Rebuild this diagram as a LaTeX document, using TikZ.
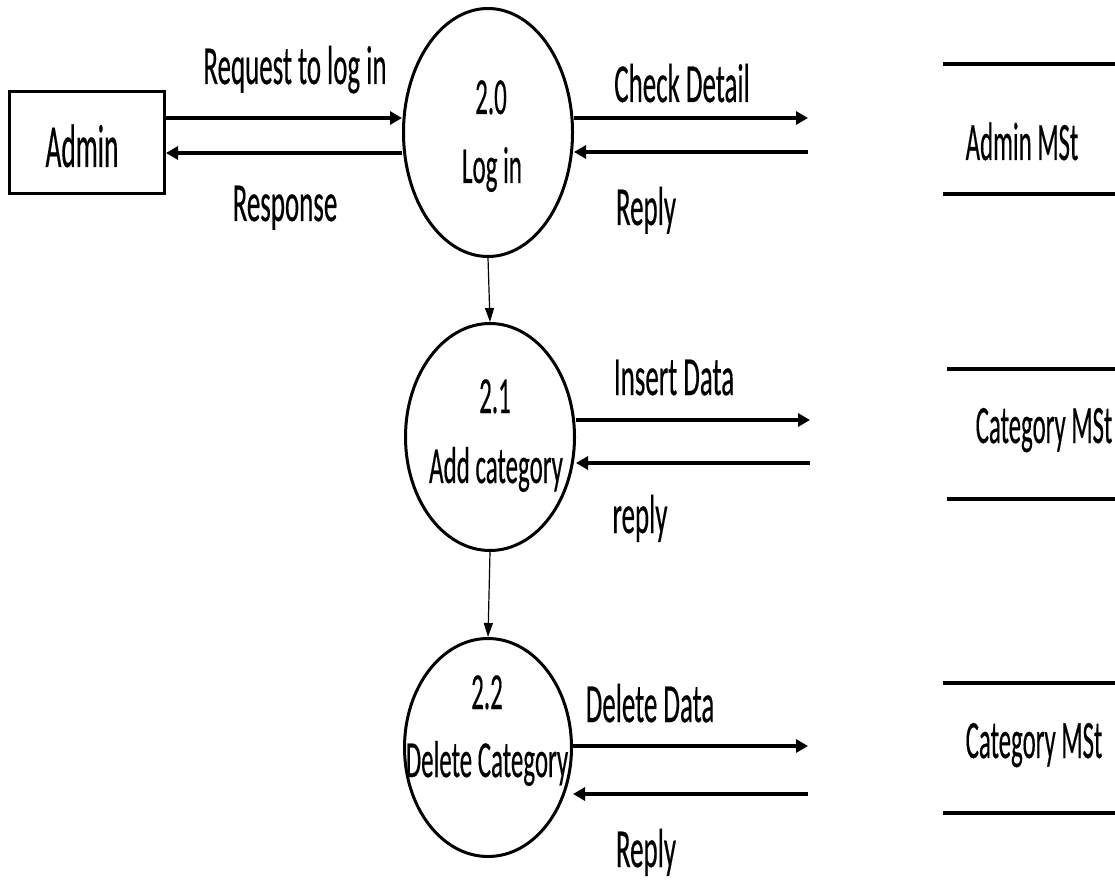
\documentclass[tikz,border=0pt]{standalone}
\usepackage{fontspec}
\setmainfont{Carlito}
\newfontfamily\lblfont{Carlito}[FakeBold=0.5]
\usepackage{graphicx}
\usetikzlibrary{arrows.meta,shapes.geometric}
% horizontally condensed text
\newcommand{\sx}[2]{\scalebox{#1}[1]{#2}}
\begin{document}
\begin{tikzpicture}[x=1pt,y=-1pt,
  proc/.style={ellipse, draw, line width=3pt, inner sep=0pt},
  entity/.style={rectangle, draw, line width=3pt, minimum width=155pt, minimum height=102pt, inner sep=0pt},
  lbl/.style={font=\lblfont\fontsize{55}{62}\selectfont, inner sep=0pt, anchor=base},
  ptxt/.style={lbl, font=\lblfont\fontsize{52}{60}\selectfont},
  stxt/.style={lbl, font=\lblfont\fontsize{54}{62}\selectfont},
  flow/.style={line width=4pt, -{Triangle[length=12pt,width=13pt]}},
  link/.style={line width=1.2pt, -{Triangle[length=14pt,width=9pt]}},
  store/.style={line width=4pt}]
\useasboundingbox (0,0) rectangle (1115,882);

% external entity
\node[entity] (admin) at (87,142.5) {};
\node[lbl, font=\lblfont\fontsize{61}{70}\selectfont] (tadmin) at (82,167) {\sx{0.45}{Admin}};

% processes
\node[proc, minimum width=169pt, minimum height=248pt] (p0) at (488,132.5) {};
\node[proc, minimum width=169pt, minimum height=227pt] (p1) at (490,437) {};
\node[proc, minimum width=167pt, minimum height=218pt] (p2) at (488,747.5) {};

\node[ptxt] (n0) at (491,114) {\sx{0.48}{2.0}};
\node[ptxt] (m0) at (492,183) {\sx{0.48}{Log in}};
\node[ptxt] (n1) at (495,413) {\sx{0.48}{2.1}};
\node[ptxt] (m1) at (496,483) {\sx{0.48}{Add category}};
\node[ptxt] (n2) at (487,709) {\sx{0.48}{2.2}};
\node[ptxt] (m2) at (487,777) {\sx{0.48}{Delete Category}};

% process links
\draw[link] (p0.south) -- (p1.north);
\draw[link] (p1.south) -- (p2.north);

% flows between the entity and the login process
\coordinate (ya) at (300,118);
\coordinate (yb) at (300,153);
\draw[flow] (admin.east |- ya) -- (p0.west |- ya);
\draw[flow] (p0.west |- yb) -- (admin.east |- yb);
\node[lbl] (lreq) at (295,84) {\sx{0.49}{Request to log in}};
\node[lbl] (lres) at (285,221) {\sx{0.49}{Response}};

% flows towards the data stores
\coordinate (e0a) at (808,118);
\coordinate (e0b) at (808,152);
\coordinate (e1a) at (810,420);
\coordinate (e1b) at (810,463);
\coordinate (e2a) at (808,746);
\coordinate (e2b) at (808,794);
\draw[flow] (p0.east |- e0a) -- (e0a);
\draw[flow] (e0b) -- (p0.east |- e0b);
\draw[flow] (p1.east |- e1a) -- (e1a);
\draw[flow] (e1b) -- (p1.east |- e1b);
\draw[flow] (p2.east |- e2a) -- (e2a);
\draw[flow] (e2b) -- (p2.east |- e2b);

\node[lbl] (lchk) at (682,102) {\sx{0.49}{Check Detail}};
\node[lbl] (lrp0) at (646,225) {\sx{0.49}{Reply}};
\node[lbl] (lins) at (674,395) {\sx{0.49}{Insert Data}};
\node[lbl] (lrp1) at (640,533) {\sx{0.49}{reply}};
\node[lbl] (ldel) at (650,722) {\sx{0.49}{Delete Data}};
\node[lbl] (lrp2) at (646,867) {\sx{0.49}{Reply}};

% data stores
\draw[store] (943,64) -- (1115,64);
\draw[store] (943,194) -- (1115,194);
\node[stxt] (s0) at (1022,160) {\sx{0.46}{Admin MSt}};
\draw[store] (947,369) -- (1115,369);
\draw[store] (947,499) -- (1115,499);
\node[stxt] (s1) at (1044,443) {\sx{0.46}{Category MSt}};
\draw[store] (943,683) -- (1115,683);
\draw[store] (943,813) -- (1115,813);
\node[stxt] (s2) at (1034,758) {\sx{0.46}{Category MSt}};
\end{tikzpicture}
\end{document}
